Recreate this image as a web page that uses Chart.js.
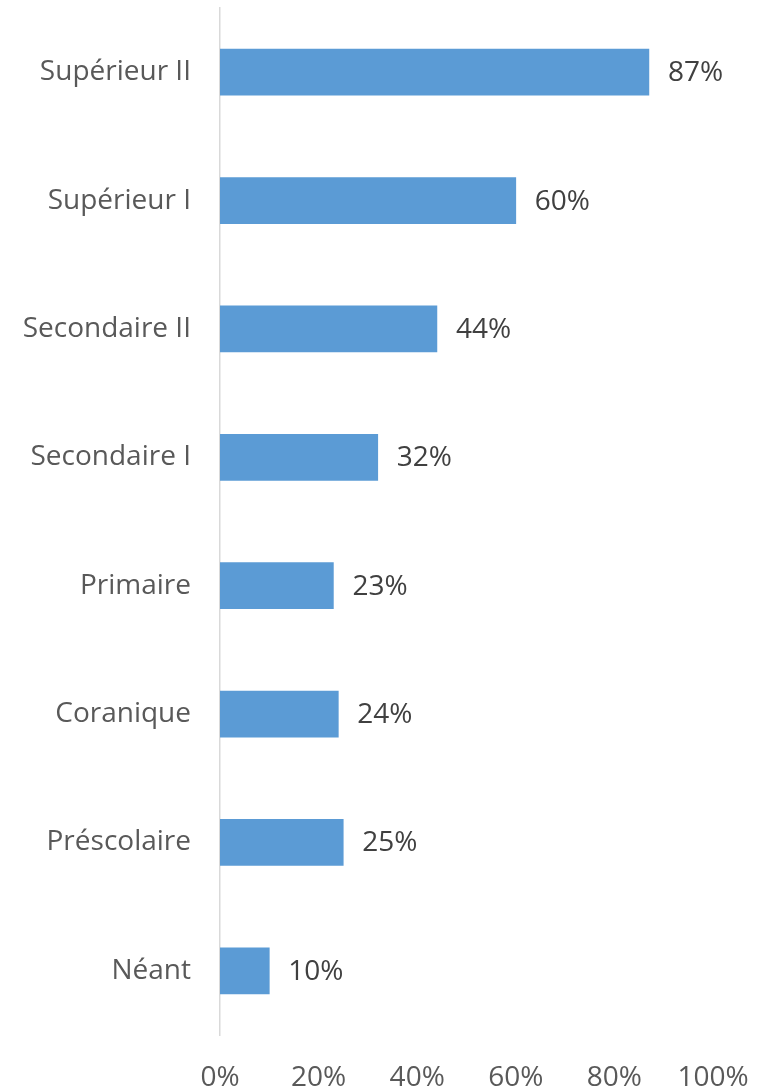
<!DOCTYPE html>
<html>
<head>
<meta charset="utf-8">
<script src="https://cdn.jsdelivr.net/npm/chart.js@4/dist/chart.umd.min.js"></script>
<style>
  html, body { margin: 0; padding: 0; background: #fff; }
  #wrap { width: 762px; height: 1089px; }
</style>
</head>
<body>
<div id="wrap"><canvas id="chart"></canvas></div>
<script>
const categories = ['Supérieur II', 'Supérieur I', 'Secondaire II', 'Secondaire I',
    'Primaire', 'Coranique', 'Préscolaire', 'Néant'];
const values = [87, 60, 44, 32, 23, 24, 25, 10];
const tickValues = [0, 20, 40, 60, 80, 100];

const fontFamily = '"Open Sans", "Liberation Sans", sans-serif';

// draws the value text just right of each bar
const barLabels = {
    id: 'barLabels',
    afterDatasetsDraw(chart) {
        const ctx = chart.ctx;
        const meta = chart.getDatasetMeta(0);
        ctx.save();
        ctx.font = '28px ' + fontFamily;
        ctx.fillStyle = '#404040';
        ctx.textAlign = 'left';
        ctx.textBaseline = 'middle';
        meta.data.forEach((bar, i) => {
            ctx.fillText(values[i] + '%', bar.x + 19, bar.y + 1);
        });
        ctx.restore();
    }
};

new Chart(document.getElementById('chart'), {
    type: 'bar',
    data: {
        labels: categories,
        datasets: [{
            data: values,
            backgroundColor: '#5b9bd5',
            borderWidth: 0,
            barThickness: 46
        }]
    },
    options: {
        indexAxis: 'y',
        responsive: true,
        maintainAspectRatio: false,
        animation: false,
        layout: { padding: { top: 8, right: 49, bottom: 0, left: 0 } },
        plugins: {
            legend: { display: false },
            tooltip: { enabled: false }
        },
        scales: {
            x: {
                min: 0,
                max: 100,
                afterBuildTicks: scale => {
                    scale.ticks = tickValues.map(v => ({ value: v }));
                },
                afterFit: scale => {
                    scale.height = 54;
                    scale.paddingLeft = 0;
                    scale.paddingRight = 0;
                },
                grid: { display: false, drawTicks: false },
                border: { display: false },
                ticks: {
                    padding: 26,
                    color: '#595959',
                    font: { size: 28, family: fontFamily },
                    maxRotation: 0,
                    callback: v => v + '%'
                }
            },
            y: {
                afterFit: scale => {
                    scale.width = 220;
                    scale.paddingTop = 0;
                    scale.paddingBottom = 0;
                },
                grid: { display: false, drawTicks: false },
                border: { display: true, color: '#d9d9d9', width: 1.5 },
                ticks: {
                    padding: 29,
                    color: '#595959',
                    font: { size: 28, family: fontFamily }
                }
            }
        }
    },
    plugins: [barLabels]
});
</script>
</body>
</html>
